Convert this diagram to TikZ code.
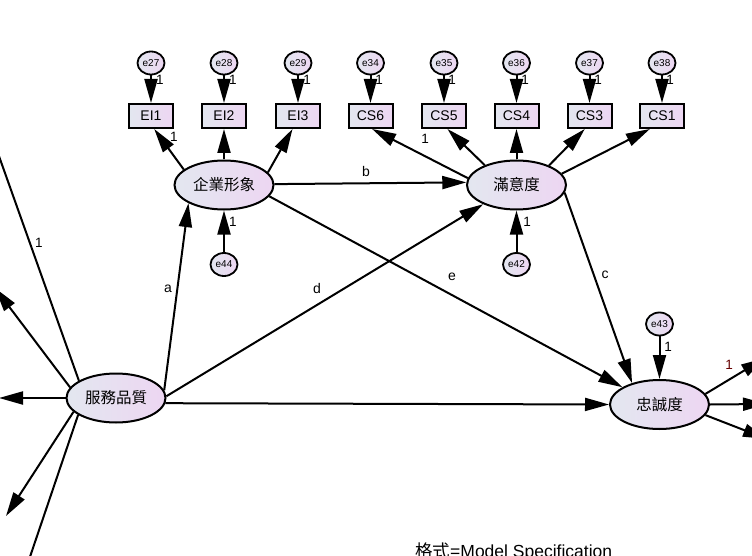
\documentclass[tikz,border=0pt]{standalone}
\usepackage{fontspec}
\setmainfont{Liberation Sans}
\newfontfamily\cjk{Noto Sans CJK TC}
\usetikzlibrary{arrows.meta,shapes.geometric}
\definecolor{gl}{HTML}{E3E7F0}
\definecolor{gr}{HTML}{EDD6F2}
\tikzset{
  lat/.style={ellipse, draw, line width=2pt, minimum width=99pt, minimum height=49pt,
    inner sep=0pt, left color=gl, right color=gr, font=\cjk\fontsize{15.5}{17}\selectfont},
  obs/.style={rectangle, draw, line width=2pt, minimum width=44pt, minimum height=24pt,
    inner sep=0pt, left color=gl, right color=gr, font=\fontsize{14}{15}\selectfont},
  err/.style={ellipse, draw, line width=1.8pt, minimum width=27pt, minimum height=23pt,
    inner sep=0pt, left color=gl, right color=gr, font=\fontsize{10}{11}\selectfont},
  arr/.style={line width=2pt, -{Triangle[length=24pt,width=13pt]}},
  one/.style={font=\fontsize{13.5}{14}\selectfont, inner sep=0pt},
  lab/.style={font=\fontsize{14}{15}\selectfont, inner sep=0pt},
}
\begin{document}
\begin{tikzpicture}[x=1pt,y=-1pt]
\useasboundingbox (0,0) rectangle (752,556);
\clip (0,0) rectangle (752,556);
\fill[white] (0,0) rectangle (752,556);

% latent variables
\node[lat] (SQ) at (116,398) {服務品質};
\node[lat] (QI) at (224,185) {企業形象};
\node[lat] (SAT) at (516.5,185) {滿意度};
\node[lat] (LOY) at (659.5,404.5) {忠誠度};

% observed variables
\node[obs] (EI1) at (151,116) {EI1};
\node[obs] (EI2) at (224,116) {EI2};
\node[obs] (EI3) at (298,116) {EI3};
\node[obs] (CS6) at (370.5,116) {CS6};
\node[obs] (CS5) at (444,116) {CS5};
\node[obs] (CS4) at (516.5,116) {CS4};
\node[obs] (CS3) at (589.5,116) {CS3};
\node[obs] (CS1) at (662,116) {CS1};

% error terms
\node[err] (e27) at (151,63) {e27};
\node[err] (e28) at (224,63) {e28};
\node[err] (e29) at (298,63) {e29};
\node[err] (e34) at (370.5,63) {e34};
\node[err] (e35) at (444,63) {e35};
\node[err] (e36) at (516.5,63) {e36};
\node[err] (e37) at (589.5,63) {e37};
\node[err] (e38) at (662,63) {e38};
\node[err] (e44) at (224,264.5) {e44};
\node[err] (e42) at (516.5,264.5) {e42};
\node[err] (e43) at (659.5,324) {e43};

% off-picture ends
\coordinate (L1) at (-21,100);
\coordinate (L2) at (-5,288);
\coordinate (L3) at (-1,398);
\coordinate (L4) at (6,516);
\coordinate (L5) at (14,604);
\coordinate (R1) at (765,358);
\coordinate (R2) at (767,404);
\coordinate (R3) at (767,439);

% error arrows
\foreach \e/\v in {e27/EI1,e28/EI2,e29/EI3,e34/CS6,e35/CS5,e36/CS4,e37/CS3,e38/CS1,e44/QI,e42/SAT,e43/LOY}
  \draw[arr] (\e) -- (\v);

% measurement paths
\draw[arr] (QI.159) -- (EI1.-76);
\draw[arr] (QI) -- (EI2);
\draw[arr] (QI.16) -- (EI3.-113);
\draw[arr] (SAT.172) -- (CS6.-83);
\draw[arr] (SAT.148) -- (CS5.-75);
\draw[arr] (SAT) -- (CS4);
\draw[arr] (SAT.31) -- (CS3.-110);
\draw[arr] (SAT.14) -- (CS1.-133);

% structural paths
\draw[arr] (QI.1) -- (SAT.177);
\draw[arr] (SQ.9) -- (QI.207);
\draw[arr] (SQ.2) -- (SAT.210);
\draw[arr] (SQ.-6) -- (LOY.west);
\draw[arr] (QI.-14) -- (LOY.155);
\draw[arr] (SAT.-9) -- (LOY.142);

% paths leaving the picture
\draw[arr] (SQ.155) -- (L1);
\draw[arr] (SQ.167) -- (L2);
\draw[arr] (SQ.west) -- (L3);
\draw[arr] (SQ.198) -- (L4);
\draw[arr] (SQ.204) -- (L5);
\draw[arr] (LOY.13) -- (R1);
\draw[arr] (LOY.east) -- (R2);
\draw[arr] (LOY.-13) -- (R3);

% fixed-parameter labels
\foreach \x in {160,233,307,379,452,525,598,670}
  \node[one] at (\x,80) {1};
\node[one] at (174,137) {1};
\node[one] at (425,139) {1};
\node[one] at (233,222) {1};
\node[one] at (527,222) {1};
\node[one] at (668,347) {1};
\node[one, text=black!60!red] at (729,365) {1};
\node[one] at (39,243) {1};

% path labels
\node[lab] (la) at (168,289) {a};
\node[lab] (lb) at (366,171) {b};
\node[lab] (lc) at (605,275) {c};
\node[lab] (ld) at (317,288) {d};
\node[lab] (le) at (452,277) {e};

\node[anchor=base west, inner sep=0pt, font=\fontsize{17.5}{18}\selectfont] (spec) at (415,557)
  {{\cjk 格式}=Model Specification};
\end{tikzpicture}
\end{document}
